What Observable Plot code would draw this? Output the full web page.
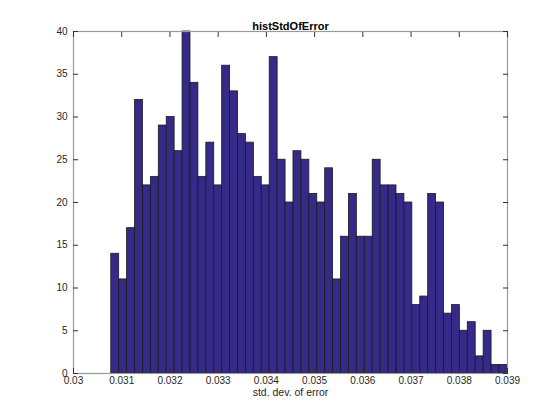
<!DOCTYPE html>
<html>
<head>
<meta charset="utf-8">
<script src="https://cdn.jsdelivr.net/npm/d3@7"></script>
<script src="https://cdn.jsdelivr.net/npm/@observablehq/plot@0.6"></script>
<style>
  html, body { margin: 0; padding: 0; background: #fff; }
  #chart svg { display: block; }
</style>
</head>
<body>
<div id="chart"></div>
<script>
// Histogram of standard deviation of error (50 equal bins)
const counts = [14, 11, 17, 32, 22, 23, 29, 30, 26, 40,
                34, 23, 27, 22, 36, 33, 28, 27, 23, 22,
                37, 25, 20, 26, 25, 21, 20, 24, 11, 16,
                21, 16, 16, 25, 22, 22, 21, 20, 8, 9,
                21, 20, 7, 8, 5, 6, 2, 5, 1, 1];
const binStart = 0.030783;
const binWidth = 0.0001643;
const xTicks = [0.03, 0.031, 0.032, 0.033, 0.034, 0.035, 0.036, 0.037, 0.038, 0.039];
const xTickLabels = ["0.03", "0.031", "0.032", "0.033", "0.034", "0.035", "0.036", "0.037", "0.038", "0.039"];
const yTicks = [0, 5, 10, 15, 20, 25, 30, 35, 40];
const title = "histStdOfError";
const xLabel = "std. dev. of error";

const bins = counts.map((c, i) => ({
  x1: binStart + i * binWidth,
  x2: binStart + (i + 1) * binWidth,
  count: c
}));

const fmtX = d => xTickLabels[xTicks.indexOf(d)] ?? String(d);
const noLabel = () => "";

const chart = Plot.plot({
  width: 560,
  height: 420,
  marginLeft: 73,
  marginRight: 53,
  marginTop: 31,
  marginBottom: 47,
  style: { fontFamily: "'Liberation Sans', Arial, Helvetica, sans-serif", fontSize: "10px", color: "#262626", background: "#fff" },
  x: { domain: [0.03, 0.039] },
  y: { domain: [0, 40] },
  marks: [
    Plot.rect(bins, { x1: "x1", x2: "x2", y1: 0, y2: "count", fill: "#352a87", stroke: "#1a1a1a", strokeWidth: 0.8 }),
    Plot.frame({ stroke: "#9a9a9a", strokeWidth: 1.2 }),
    // labels
    Plot.axisX(xTicks, { anchor: "bottom", tickSize: 0, tickPadding: 3, tickFormat: fmtX, label: null, fill: "#262626" }),
    Plot.axisY(yTicks, { anchor: "left", tickSize: 0, tickPadding: 6, tickFormat: d => String(d), label: null, fill: "#262626" }),
    // inward ticks on all four sides
    Plot.axisX(xTicks, { anchor: "bottom", tickSize: -5, tickFormat: noLabel, label: null, stroke: "#333" }),
    Plot.axisX(xTicks, { anchor: "top", tickSize: -5, tickFormat: noLabel, label: null, stroke: "#333" }),
    Plot.axisY(yTicks, { anchor: "left", tickSize: -5, tickFormat: noLabel, label: null, stroke: "#333" }),
    Plot.axisY(yTicks, { anchor: "right", tickSize: -5, tickFormat: noLabel, label: null, stroke: "#333" }),
    Plot.text([title], { frameAnchor: "top", dy: -9, text: d => d, fontWeight: "bold", fontSize: 11, fill: "#000" }),
    Plot.text([xLabel], { frameAnchor: "bottom", dy: 22, text: d => d, fontSize: 10.5, fill: "#262626" })
  ]
});
document.getElementById("chart").appendChild(chart);
</script>
</body>
</html>
